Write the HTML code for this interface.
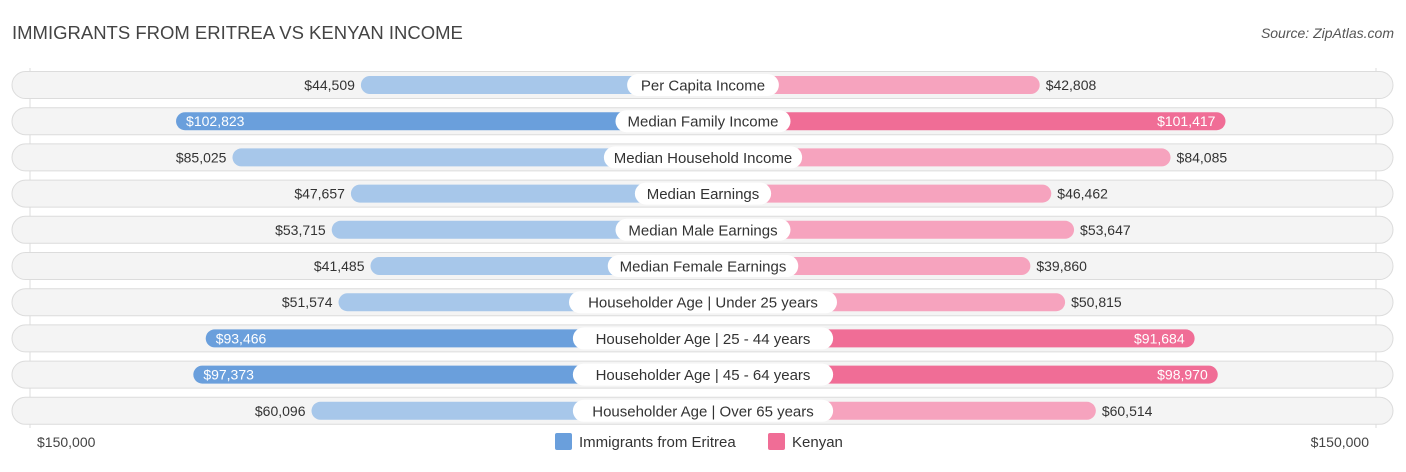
<!DOCTYPE html>
<html><head><meta charset="utf-8"><style>
body{margin:0;background:#fff;font-family:"Liberation Sans",Arial,sans-serif;}
svg text{font-family:"Liberation Sans",Arial,sans-serif;}
</style></head><body>
<svg id="c" width="1406" height="467" xmlns="http://www.w3.org/2000/svg">
<text x="12" y="39" font-size="18.5" fill="#444">IMMIGRANTS FROM ERITREA VS KENYAN INCOME</text>
<text x="1394" y="38" font-size="14" fill="#555" text-anchor="end" font-style="italic">Source: ZipAtlas.com</text>
<line x1="30" y1="68" x2="30" y2="428" stroke="#ddd"/>
<line x1="1376" y1="68" x2="1376" y2="428" stroke="#ddd"/>
<g id="rows"></g>
<text x="37" y="447" font-size="14" fill="#444">$150,000</text>
<text x="1369" y="447" font-size="14" fill="#444" text-anchor="end">$150,000</text>
<rect x="555" y="433" width="17" height="17" rx="2" fill="#6a9fdc"/>
<text x="579" y="447" font-size="15" fill="#333">Immigrants from Eritrea</text>
<rect x="768" y="433" width="17" height="17" rx="2" fill="#f06d96"/>
<text x="792" y="447" font-size="15" fill="#333">Kenyan</text>
</svg>
<script>
const categories=["Per Capita Income","Median Family Income","Median Household Income","Median Earnings","Median Male Earnings","Median Female Earnings","Householder Age | Under 25 years","Householder Age | 25 - 44 years","Householder Age | 45 - 64 years","Householder Age | Over 65 years"];
const eritrea=[44509,102823,85025,47657,53715,41485,51574,93466,97373,60096];
const kenyan=[42808,101417,84085,46462,53647,39860,50815,91684,98970,60514];
const NS="http://www.w3.org/2000/svg";
const g=document.getElementById('rows');
const cx=703;
function len(v){return 201+0.00317*v;}
function fmt(v){return "$"+v.toLocaleString("en-US");}
function mk(tag,attrs){const e=document.createElementNS(NS,tag);for(const k in attrs)e.setAttribute(k,attrs[k]);g.appendChild(e);return e;}
categories.forEach((cat,i)=>{
  const y=85+i*36.2;
  const bg=mk('rect',{x:12,y:y-13.5,width:1381,height:27,rx:13.5,fill:'#f4f4f4',stroke:'#dcdcdc'});
  
  
  [[eritrea[i],-1],[kenyan[i],1]].forEach(([v,s])=>{
    const L=len(v);const strong=v>90000;
    const col=s<0?(strong?'#6a9fdc':'#a7c7ea'):(strong?'#f06d96':'#f6a3be');
    const x=s<0?cx-L:cx;
    const b=mk('rect',{x:x,y:y-9,width:L,height:18,rx:9,fill:col});
    
    
    let tx,anchor,fill;
    if(strong){tx=s<0?cx-L+10:cx+L-10;anchor=s<0?'start':'end';fill='#fff';}
    else{tx=s<0?cx-L-6:cx+L+6;anchor=s<0?'end':'start';fill='#333';}
    const t=mk('text',{x:tx,y:y+5,'font-size':14,'text-anchor':anchor,fill:fill});
    t.textContent=fmt(v);
    
    
  });
  const w=cat.length*7.75+20;
  const p=mk('rect',{x:cx-w/2,y:y-11,width:w,height:22,rx:11,fill:'#fff'});
  
  
  const t=mk('text',{x:cx,y:y+5.5,'font-size':15,'text-anchor':'middle',fill:'#333'});
  t.textContent=cat;
  
  
});
</script>
</body></html>
